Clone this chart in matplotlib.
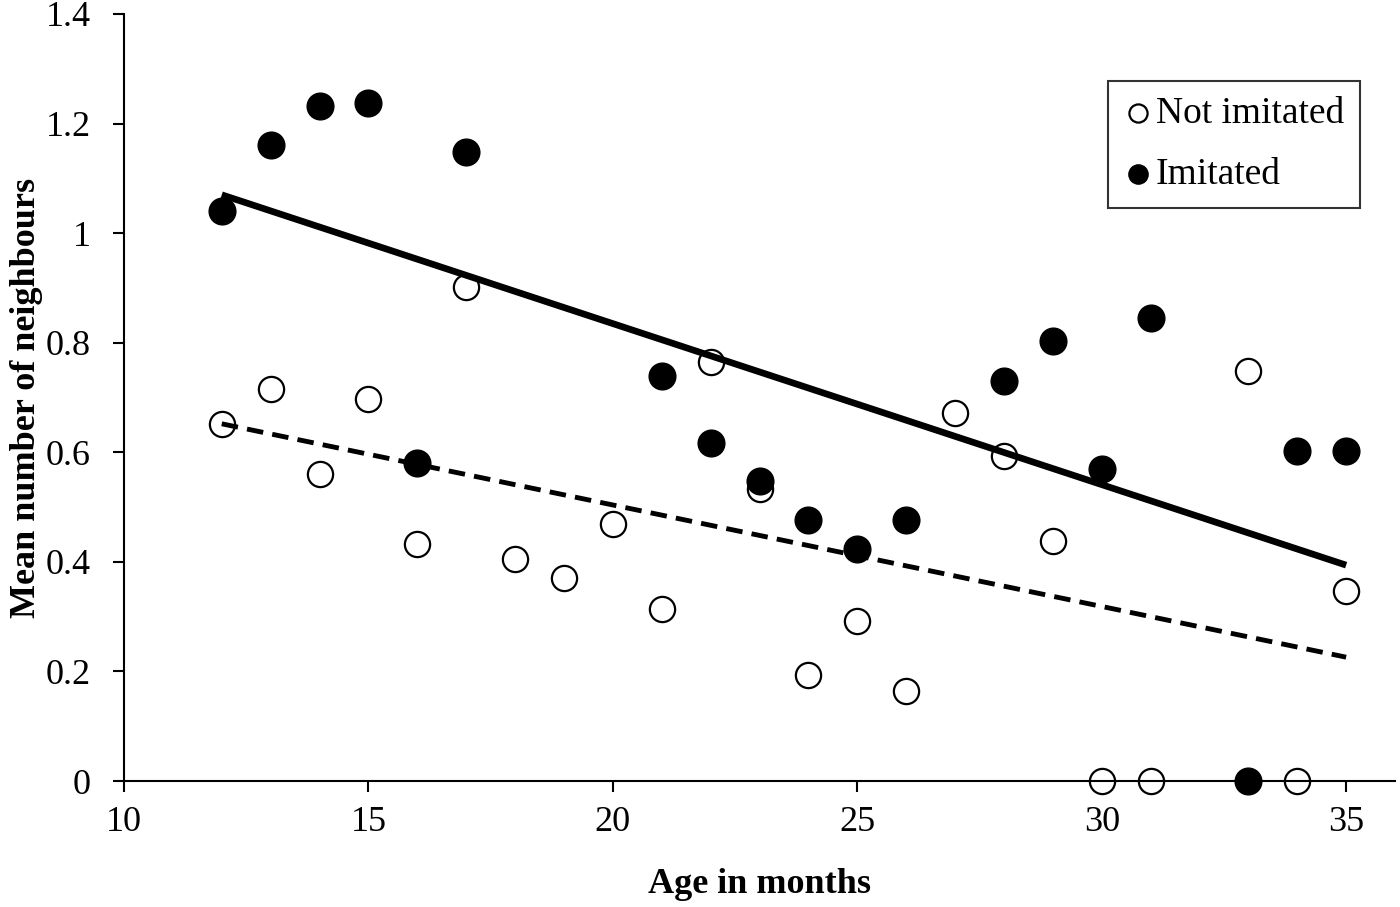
import matplotlib
matplotlib.use("Agg")
import matplotlib.pyplot as plt

# data
age_not = [12, 13, 14, 15, 16, 17, 18, 19, 20, 21, 22, 23, 24, 25, 26, 27, 28, 29, 30, 31, 33, 34, 35]
nb_not = [0.652, 0.716, 0.560, 0.697, 0.433, 0.902, 0.405, 0.371, 0.469, 0.314, 0.765, 0.533,
          0.193, 0.292, 0.164, 0.672, 0.593, 0.438, 0.0, 0.0, 0.748, 0.0, 0.347]

age_imi = [12, 13, 14, 15, 16, 17, 21, 22, 23, 24, 25, 26, 28, 29, 30, 31, 33, 34, 35]
nb_imi = [1.040, 1.161, 1.232, 1.238, 0.580, 1.148, 0.739, 0.617, 0.548, 0.476, 0.423, 0.476,
          0.730, 0.803, 0.569, 0.845, 0.0, 0.602, 0.602]

trend_age = [12, 35]
trend_not = [0.652, 0.226]
trend_imi = [1.070, 0.394]

x_ticks = [10, 15, 20, 25, 30, 35]
y_ticks = [0, 0.2, 0.4, 0.6, 0.8, 1.0, 1.2, 1.4]
y_labels = ["0", "0.2", "0.4", "0.6", "0.8", "1", "1.2", "1.4"]

plt.rcParams['font.family'] = ['Liberation Serif', 'DejaVu Serif']

fig = plt.figure(figsize=(14, 9.07), dpi=100)
ax = fig.add_axes([124/1400, 1 - 781/907, (1395-124)/1400, (781-14)/907])

ax.scatter(age_not, nb_not, s=330, facecolor='white', edgecolor='black', linewidth=1.6,
           zorder=2, label="Not imitated", clip_on=False)
ax.scatter(age_imi, nb_imi, s=370, facecolor='black', edgecolor='black', linewidth=1,
           zorder=2, label="Imitated", clip_on=False)

ax.plot(trend_age, trend_imi, color='black', lw=4.8, solid_capstyle='butt', zorder=3)
ax.plot(trend_age, trend_not, color='black', lw=3.5, linestyle=(0, (3.4, 1.9)),
        dash_capstyle='butt', zorder=3)

ax.set_xlim(10, 36)
ax.set_ylim(0, 1.4)
ax.set_xticks(x_ticks)
ax.set_yticks(y_ticks)
ax.set_yticklabels(y_labels)

for side in ['top', 'right']:
    ax.spines[side].set_visible(False)
for side in ['left', 'bottom']:
    ax.spines[side].set_linewidth(1.5)
    ax.spines[side].set_zorder(4)

ax.tick_params(axis='both', direction='out', length=8, width=1.5, labelsize=26)
ax.tick_params(axis='y', pad=16)
ax.tick_params(axis='x', pad=10)

ax.set_xlabel("Age in months", fontsize=26, fontweight='bold', labelpad=21)
ax.set_ylabel("Mean number of neighbours", fontsize=26, fontweight='bold')
ax.yaxis.set_label_coords(-0.064, 0.5)

leg = ax.legend(loc='upper right', bbox_to_anchor=(1360/1400, 1 - 81/907),
                bbox_transform=fig.transFigure, borderaxespad=0, fontsize=27,
                frameon=True, fancybox=False, edgecolor='black', markerscale=0.72,
                handletextpad=0.1, handlelength=0.75, labelspacing=0.7,
                borderpad=0.42)
leg.get_frame().set_linewidth(1.5)

fig.savefig("out.png", dpi=100)
